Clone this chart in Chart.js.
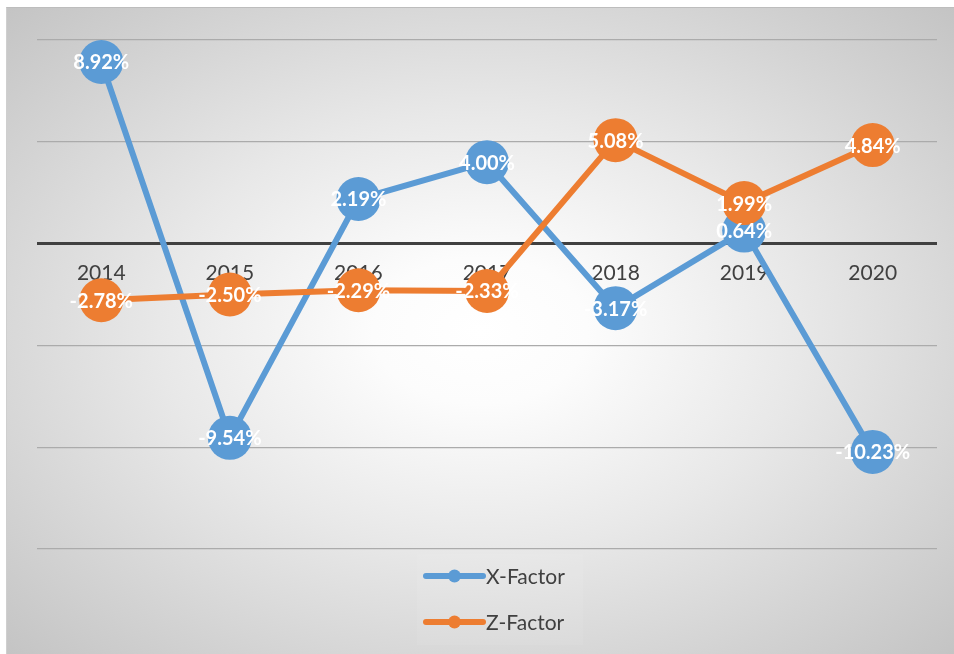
<!DOCTYPE html>
<html><head><meta charset="utf-8">
<script src="https://cdn.jsdelivr.net/npm/chart.js@4.4.1/dist/chart.umd.min.js"></script>
<style>
html,body{margin:0;padding:0;background:#fff;width:954px;height:654px;overflow:hidden;}
#bg{position:absolute;left:6px;top:7px;width:948px;height:647px;box-sizing:border-box;
 border-top:1px solid #bdbdbd;border-left:1px solid #cfcfcf;
 background:radial-gradient(ellipse farthest-corner at 50% 50%, #ffffff 0%, #fcfcfc 16%, #e8e8e8 48%, #d3d3d3 78%, #c4c4c4 100%);}
#c{position:absolute;left:0;top:0;}
</style></head><body>
<div id="bg"></div>
<canvas id="c" width="954" height="654"></canvas>
<script>
const categories = ['2014', '2015', '2016', '2017', '2018', '2019', '2020'];
const xFactor = [8.92, -9.54, 2.19, 4.00, -3.17, 0.64, -10.23];
const zFactor = [-2.78, -2.50, -2.29, -2.33, 5.08, 1.99, 4.84];
const yTicks = [-15, -10, -5, 0, 5, 10];
const seriesNames = ['X-Factor', 'Z-Factor'];
const seriesColors = ['#5B9BD5', '#ED7D31'];

Chart.defaults.font.family = 'Lato, "Open Sans", sans-serif';

const valueLabels = {
  id: 'valueLabels',
  afterDatasetsDraw(chart) {
    const ctx = chart.ctx;
    ctx.save();
    ctx.font = 'bold 20px Lato';
    ctx.fillStyle = '#ffffff';
    ctx.textAlign = 'center';
    ctx.textBaseline = 'middle';
    chart.data.datasets.forEach((ds, i) => {
      const meta = chart.getDatasetMeta(i);
      meta.data.forEach((pt, j) => {
        ctx.fillText(ds.data[j].toFixed(2) + '%', pt.x, pt.y + 1);
      });
    });
    ctx.restore();
  }
};

const stackedLegend = {
  id: 'stackedLegend',
  afterDraw(chart) {
    const ctx = chart.ctx;
    const area = chart.chartArea;
    ctx.save();
    ctx.fillStyle = 'rgba(255,255,255,0.07)';
    ctx.fillRect(417, 554, 166, 91);
    ctx.font = '21px Lato';
    ctx.textBaseline = 'middle';
    ctx.textAlign = 'left';
    chart.data.datasets.forEach((ds, i) => {
      const y = area.bottom + 27 + i * 46;
      const x0 = 426, x1 = 483;
      ctx.strokeStyle = ds.borderColor;
      ctx.lineWidth = 6;
      ctx.lineCap = 'round';
      ctx.beginPath(); ctx.moveTo(x0, y); ctx.lineTo(x1, y); ctx.stroke();
      ctx.fillStyle = ds.borderColor;
      ctx.beginPath(); ctx.arc((x0 + x1) / 2, y, 6.5, 0, Math.PI * 2); ctx.fill();
      ctx.fillStyle = '#404040';
      ctx.fillText(ds.label, x1 + 3, y + 1);
    });
    ctx.restore();
  }
};

function mkDataset(i, data, order) {
  return {
    label: seriesNames[i],
    data: data,
    borderColor: seriesColors[i],
    backgroundColor: seriesColors[i],
    pointBackgroundColor: seriesColors[i],
    pointBorderWidth: 0,
    pointRadius: 22,
    pointHoverRadius: 22,
    borderWidth: 6,
    tension: 0,
    clip: false,
    order: order
  };
}

new Chart(document.getElementById('c'), {
  type: 'line',
  data: {
    labels: categories,
    datasets: [mkDataset(0, xFactor, 1), mkDataset(1, zFactor, 0)]
  },
  options: {
    responsive: false,
    animation: false,
    devicePixelRatio: 1,
    layout: { autoPadding: false, padding: { left: 37, right: 17, top: 40, bottom: 105 } },
    plugins: { legend: { display: false }, tooltip: { enabled: false } },
    scales: {
      x: {
        type: 'category',
        offset: true,
        position: { y: 0 },
        z: 1,
        grid: { display: false, drawTicks: false },
        border: { display: false },
        ticks: { color: '#404040', font: { size: 21 }, padding: 17, maxRotation: 0 }
      },
      y: {
        min: -15, max: 10,
        afterBuildTicks(scale) { scale.ticks = yTicks.map(v => ({ value: v })); },
        ticks: { display: false },
        border: { display: false },
        grid: {
          drawTicks: false,
          color: ctx => ctx.tick && ctx.tick.value === 0 ? '#404040' : '#ababab',
          lineWidth: ctx => ctx.tick && ctx.tick.value === 0 ? 3 : 1.2
        }
      }
    }
  },
  plugins: [valueLabels, stackedLegend]
});
</script>
</body></html>
